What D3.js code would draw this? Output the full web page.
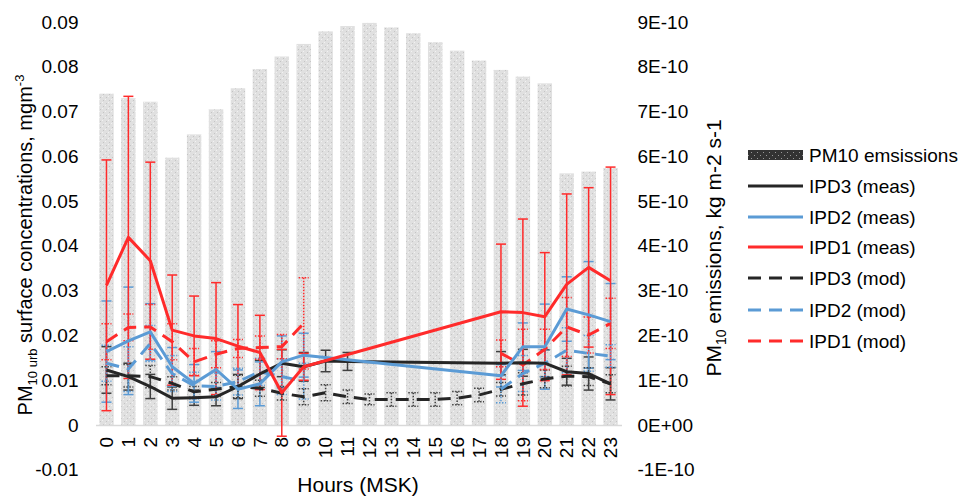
<!DOCTYPE html>
<html><head><meta charset="utf-8">
<script src="https://cdn.jsdelivr.net/npm/d3@7"></script>
<style>
body{margin:0;background:#fff;}
text{font-family:"Liberation Sans",Arial,sans-serif;fill:#000;}
</style></head>
<body><svg id="chart" width="963" height="499"></svg>
<script>
const hours = d3.range(24).map(String);
const emissions = [7.40e-10,7.30e-10,7.22e-10,5.97e-10,6.49e-10,7.05e-10,7.52e-10,7.95e-10,8.23e-10,8.51e-10,8.79e-10,8.91e-10,8.98e-10,8.88e-10,8.75e-10,8.55e-10,8.36e-10,8.14e-10,7.93e-10,7.78e-10,7.63e-10,5.62e-10,5.66e-10,5.74e-10];
const N = null;
const ipd3Meas    = [0.0123,0.0108,0.0086,0.0060,0.0061,0.0063,0.0086,0.0114,0.0138,0.0130,0.0143,0.0142,N,N,N,N,N,N,0.0138,0.0139,0.0138,0.0119,0.0115,0.0092];
const ipd3MeasErr = [0.0052,0.0030,0.0027,0.0025,0.0017,0.0020,0.0027,0.0030,0.0030,0.0032,0.0024,0.0020,N,N,N,N,N,N,0.0026,0.0030,0.0030,0.0030,0.0037,0.0036];
const ipd2Meas    = [0.0164,0.0188,0.0208,0.0130,0.0093,0.0124,0.0080,0.0092,0.0141,0.0156,N,N,N,N,N,N,N,N,0.0110,0.0175,0.0175,0.0259,0.0246,0.0231];
const ipd2MeasErr = [0.0113,0.0120,0.0063,0.0043,0.0042,0.0040,0.0043,0.0049,0.0058,0.0049,N,N,N,N,N,N,N,N,0.0025,0.0053,0.0095,0.0072,0.0119,0.0085];
const ipd1Meas    = [0.0312,0.0419,0.0367,0.0212,0.0199,0.0193,0.0176,0.0162,0.0072,0.0130,N,N,N,N,N,N,N,N,0.0253,0.0251,0.0242,0.0314,0.0352,0.0322];
const ipd1MeasErr = [0.0280,0.0315,0.0220,0.0123,0.0089,0.0125,0.0093,0.0083,0.0097,0.0030,N,N,N,N,N,N,N,N,0.0151,0.0209,0.0143,0.0202,0.0178,0.0254];
const ipd3Mod     = [0.0110,0.0110,0.0108,0.0093,0.0074,0.0080,0.0086,0.0082,0.0071,0.0063,0.0072,0.0063,0.0057,0.0057,0.0057,0.0057,0.0060,0.0067,0.0080,0.0092,0.0103,0.0109,0.0108,0.0092];
const ipd3ModErr  = [0.0020,0.0025,0.0025,0.0015,0.0012,0.0015,0.0025,0.0018,0.0015,0.0018,0.0018,0.0015,0.0012,0.0015,0.0015,0.0015,0.0015,0.0015,0.0015,0.0025,0.0020,0.0022,0.0020,0.0020];
const ipd2Mod     = [0.0138,0.0125,0.0182,0.0115,0.0088,0.0086,0.0097,0.0119,0.0108,0.0098,N,N,N,N,N,N,N,N,0.0080,0.0115,0.0138,0.0167,0.0160,0.0154];
const ipd2ModErr  = [0.0040,0.0050,0.0040,0.0040,0.0030,0.0030,0.0030,0.0030,0.0040,0.0040,N,N,N,N,N,N,N,N,0.0030,0.0040,0.0030,0.0050,0.0040,0.0025];
const ipd1Mod     = [0.0186,0.0218,0.0219,0.0186,0.0141,0.0158,0.0171,0.0173,0.0175,0.0227,N,N,N,N,N,N,N,N,0.0160,0.0134,0.0169,0.0219,0.0201,0.0227];
const ipd1ModErr  = [0.0040,0.0030,0.0050,0.0040,0.0030,0.0030,0.0020,0.0026,0.0027,0.0102,N,N,N,N,N,N,N,N,0.0030,0.0080,0.0045,0.0066,0.0040,0.0056];
const leftTicks = [-0.01,0,0.01,0.02,0.03,0.04,0.05,0.06,0.07,0.08,0.09];
const rightTicks = [-1e-10,0,1e-10,2e-10,3e-10,4e-10,5e-10,6e-10,7e-10,8e-10,9e-10];

const BLACK="#262626", BLUE="#5b9bd5", RED="#ff2b2b", ERRBLACK="#404040";
const series = [
  {name:"IPD3 (meas)", v:ipd3Meas, e:ipd3MeasErr, color:BLACK, ecolor:ERRBLACK, dashed:false, connect:true},
  {name:"IPD2 (meas)", v:ipd2Meas, e:ipd2MeasErr, color:BLUE, ecolor:BLUE, dashed:false, connect:true},
  {name:"IPD1 (meas)", v:ipd1Meas, e:ipd1MeasErr, color:RED, ecolor:RED, dashed:false, connect:true},
  {name:"IPD3 (mod)", v:ipd3Mod, e:ipd3ModErr, color:BLACK, ecolor:ERRBLACK, dashed:true, connect:false},
  {name:"IPD2 (mod)", v:ipd2Mod, e:ipd2ModErr, color:BLUE, ecolor:BLUE, dashed:true, connect:false},
  {name:"IPD1 (mod)", v:ipd1Mod, e:ipd1ModErr, color:RED, ecolor:RED, dashed:true, connect:false}
];

const svg = d3.select("#chart");
const defs = svg.append("defs");
const pat = defs.append("pattern").attr("id","dots").attr("patternUnits","userSpaceOnUse").attr("width",6).attr("height",6);
pat.append("rect").attr("width",6).attr("height",6).attr("fill","#e0e0e0");
pat.append("rect").attr("x",0).attr("y",0).attr("width",1).attr("height",1).attr("fill","#f2f2f2");
pat.append("rect").attr("x",3).attr("y",3).attr("width",1).attr("height",1).attr("fill","#f2f2f2");
pat.append("rect").attr("x",1).attr("y",4).attr("width",1).attr("height",1).attr("fill","#c4c4c4");
pat.append("rect").attr("x",4).attr("y",1).attr("width",1).attr("height",1).attr("fill","#c4c4c4");
const pat2 = defs.append("pattern").attr("id","dotsDark").attr("patternUnits","userSpaceOnUse").attr("width",6).attr("height",6);
pat2.append("rect").attr("width",6).attr("height",6).attr("fill","#333");
pat2.append("rect").attr("x",1).attr("y",2).attr("width",1).attr("height",1).attr("fill","#999");
pat2.append("rect").attr("x",4).attr("y",5).attr("width",1).attr("height",1).attr("fill","#999");

const x = d3.scaleBand().domain(hours).range([95.5,621.5]).paddingInner(0.34).paddingOuter(0.17);
const xc = h => x(h) + x.bandwidth()/2;
const y = d3.scaleLinear().domain([-0.01,0.09]).range([469.8,22]);
const yR = d3.scaleLinear().domain([-1e-10,9e-10]).range([469.8,22]);

// bars
svg.append("g").selectAll("rect").data(emissions).join("rect")
  .attr("x",(d,i)=>x(hours[i])).attr("width",x.bandwidth())
  .attr("y",d=>yR(d)).attr("height",d=>yR(0)-yR(d))
  .attr("fill","url(#dots)");

// x axis (zero line)
const xAxis = svg.append("g").attr("transform",`translate(0,${y(0)})`)
  .call(d3.axisBottom(x).tickSize(0));
xAxis.select(".domain").attr("stroke","#d9d9d9").attr("stroke-width",1.5);
xAxis.selectAll("text").attr("transform","rotate(-90)").attr("x",-12).attr("y",0).attr("dy","0.35em")
  .attr("text-anchor","end").style("font-size","19px").style("font-family","Liberation Sans, Arial, sans-serif");

// left axis
const yAxis = svg.append("g").attr("transform","translate(95.5,0)")
  .call(d3.axisLeft(y).tickValues(leftTicks).tickSize(0).tickPadding(17)
    .tickFormat(d=>Math.abs(d)<1e-9?"0":d3.format(".2f")(d).replace("\u2212","-")));
yAxis.select(".domain").remove();
yAxis.selectAll("text").style("font-size","19px").style("font-family","Liberation Sans, Arial, sans-serif");

// right axis
const rAxis = svg.append("g").attr("transform","translate(621.5,0)")
  .call(d3.axisRight(yR).tickValues(rightTicks).tickSize(0).tickPadding(16)
    .tickFormat(d=>Math.abs(d)<1e-20?"0E+00":Math.round(d*1e10)+"E-10"));
rAxis.select(".domain").remove();
rAxis.selectAll("text").style("font-size","19px").style("font-family","Liberation Sans, Arial, sans-serif");

// error bars
const eg = svg.append("g");
series.forEach(s=>{
  s.v.forEach((v,i)=>{
    if(v==null || s.e[i]==null) return;
    const cx = xc(hours[i]);
    const y1 = y(v+s.e[i]), y2 = y(v-s.e[i]);
    const st = s.dashed ? "1.5,1.5" : null;
    const g = eg.append("g").attr("stroke",s.ecolor).attr("stroke-width",1.5).attr("stroke-dasharray",st).attr("fill","none");
    g.append("line").attr("x1",cx).attr("x2",cx).attr("y1",y1).attr("y2",y2);
    g.append("line").attr("x1",cx-5).attr("x2",cx+5).attr("y1",y1).attr("y2",y1);
    g.append("line").attr("x1",cx-5).attr("x2",cx+5).attr("y1",y2).attr("y2",y2);
  });
});

// lines
const lg = svg.append("g");
const drawOrder = [3,4,5,0,1,2];
drawOrder.forEach(k=>{
  const s = series[k];
  const pts = s.v.map((v,i)=>({h:hours[i],v}));
  const line = d3.line().x(d=>xc(d.h)).y(d=>y(d.v)).defined(d=>d.v!=null);
  lg.append("path").attr("d", line(s.connect ? pts.filter(d=>d.v!=null) : pts))
    .attr("fill","none").attr("stroke",s.color).attr("stroke-width",3)
    .attr("stroke-linejoin","round")
    .attr("stroke-dasharray", s.dashed ? "13,8" : null);
});

// axis titles
const lt = svg.append("text").attr("transform","translate(32,245) rotate(-90)")
  .attr("text-anchor","middle").style("font-size","20px");
lt.append("tspan").text("PM");
lt.append("tspan").attr("dy",5).style("font-size","13px").text("10 urb");
lt.append("tspan").attr("dy",-5).text(" surface concentrations, mgm");
lt.append("tspan").attr("dy",-8).style("font-size","13px").text("-3");

const rt = svg.append("text").attr("transform","translate(721,248) rotate(-90)")
  .attr("text-anchor","middle").style("font-size","21px");
rt.append("tspan").text("PM");
rt.append("tspan").attr("dy",5).style("font-size","14px").text("10");
rt.append("tspan").attr("dy",-5).text(" emissions, kg m-2 s-1");

svg.append("text").attr("x",358).attr("y",492).attr("text-anchor","middle").style("font-size","21px").text("Hours (MSK)");

// legend
const legY = [155,186,217,247,278,310,341];
const leg = svg.append("g");
leg.append("rect").attr("x",748).attr("y",legY[0]-5).attr("width",55).attr("height",10).attr("fill","url(#dotsDark)");
leg.append("text").attr("x",809).attr("y",legY[0]).attr("dy","0.35em").style("font-size","19px").text("PM10 emsissions");
series.forEach((s,i)=>{
  const yy = legY[i+1];
  leg.append("line").attr("x1",748).attr("x2",803).attr("y1",yy).attr("y2",yy)
    .attr("stroke",s.color).attr("stroke-width",3).attr("stroke-dasharray",s.dashed?"13,8":null);
  leg.append("text").attr("x",809).attr("y",yy).attr("dy","0.35em").style("font-size","19px").text(s.name);
});
</script></body></html>
